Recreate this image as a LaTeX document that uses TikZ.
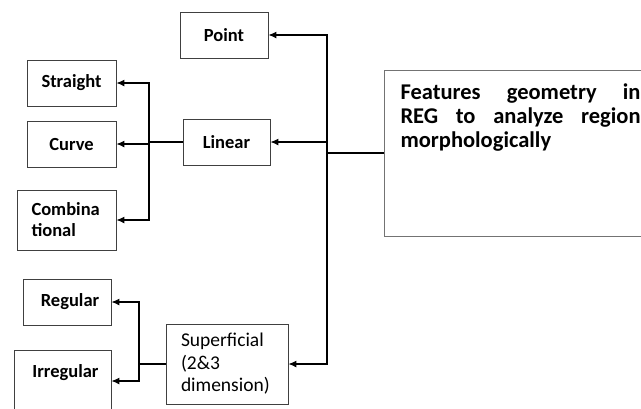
\documentclass[tikz,border=0pt]{standalone}
\usepackage{fontspec}
\setmainfont{Carlito}
\usetikzlibrary{arrows.meta,positioning}

\begin{document}
\begin{tikzpicture}[x=1pt,y=-1pt,>={Latex[length=8pt,width=7pt]},line width=1.1pt,
  box/.style={draw=black!75,line width=0.9pt,inner sep=0pt,
    font=\bfseries\fontsize{18.5}{21}\selectfont},
  leaf/.style={box,minimum width=89pt,minimum height=46pt}]
  \useasboundingbox (0,0) rectangle (641,408);

  \node[box,minimum width=276pt,minimum height=166pt,draw=black!55,anchor=north west]
    (reg) at (384,70) {};
  \node[anchor=north west,inner sep=0pt,font=\bfseries\fontsize{22.5}{24}\selectfont]
    (regtxt) at (400,83) {\parbox[t]{240pt}{Features geometry in\linebreak
      REG to analyze region\linebreak morphologically}};

  \node[leaf,minimum width=88pt] (point)    at (224,35)   {Point\hspace{22pt}};
  \node[leaf,minimum width=87pt] (linear)   at (226.5,142) {Linear\hspace{6pt}};
  \node[leaf] (straight) at (71.5,83)  {Straight};
  \node[leaf] (curve)    at (71.5,144) {Curve\hspace{16pt}};
  \node[leaf,minimum width=99pt,minimum height=60pt,text width=70pt,align=left] (comb) at (66.5,220)
    {Combina\\tional};
  \node[leaf,minimum width=88pt] (regular)   at (67,302)   {\hspace{6pt}Regular};
  \node[leaf,minimum width=97pt,minimum height=62pt,text depth=20pt] (irregular) at (62.5,381) {\hspace{6pt}Irregular};
  \node[leaf,minimum width=122pt,minimum height=80pt,text width=92pt,align=left,
    font=\fontsize{19.5}{22.5}\selectfont] (superf) at (227,364)
    {Superficial\\(2\&3\\dimension)};

  % junctions
  \coordinate (ja) at (327,153);
  \coordinate (jb) at (149,142);
  \coordinate (jc) at (139,364);

  \draw (reg.west |- ja) -- (ja);
  \draw[->] (ja) |- (point.east);
  \draw[->] (ja) |- (linear.east);
  \draw[->] (ja) |- (superf.east);

  \draw (linear.west) -- (jb);
  \draw[->] (jb) |- (straight.east);
  \draw[->] (jb) |- (curve.east);
  \draw[->] (jb) |- (comb.east);

  \draw (superf.west) -- (jc);
  \draw[->] (jc) |- (regular.east);
  \draw[->] (jc) |- (irregular.east);
\end{tikzpicture}
\end{document}
